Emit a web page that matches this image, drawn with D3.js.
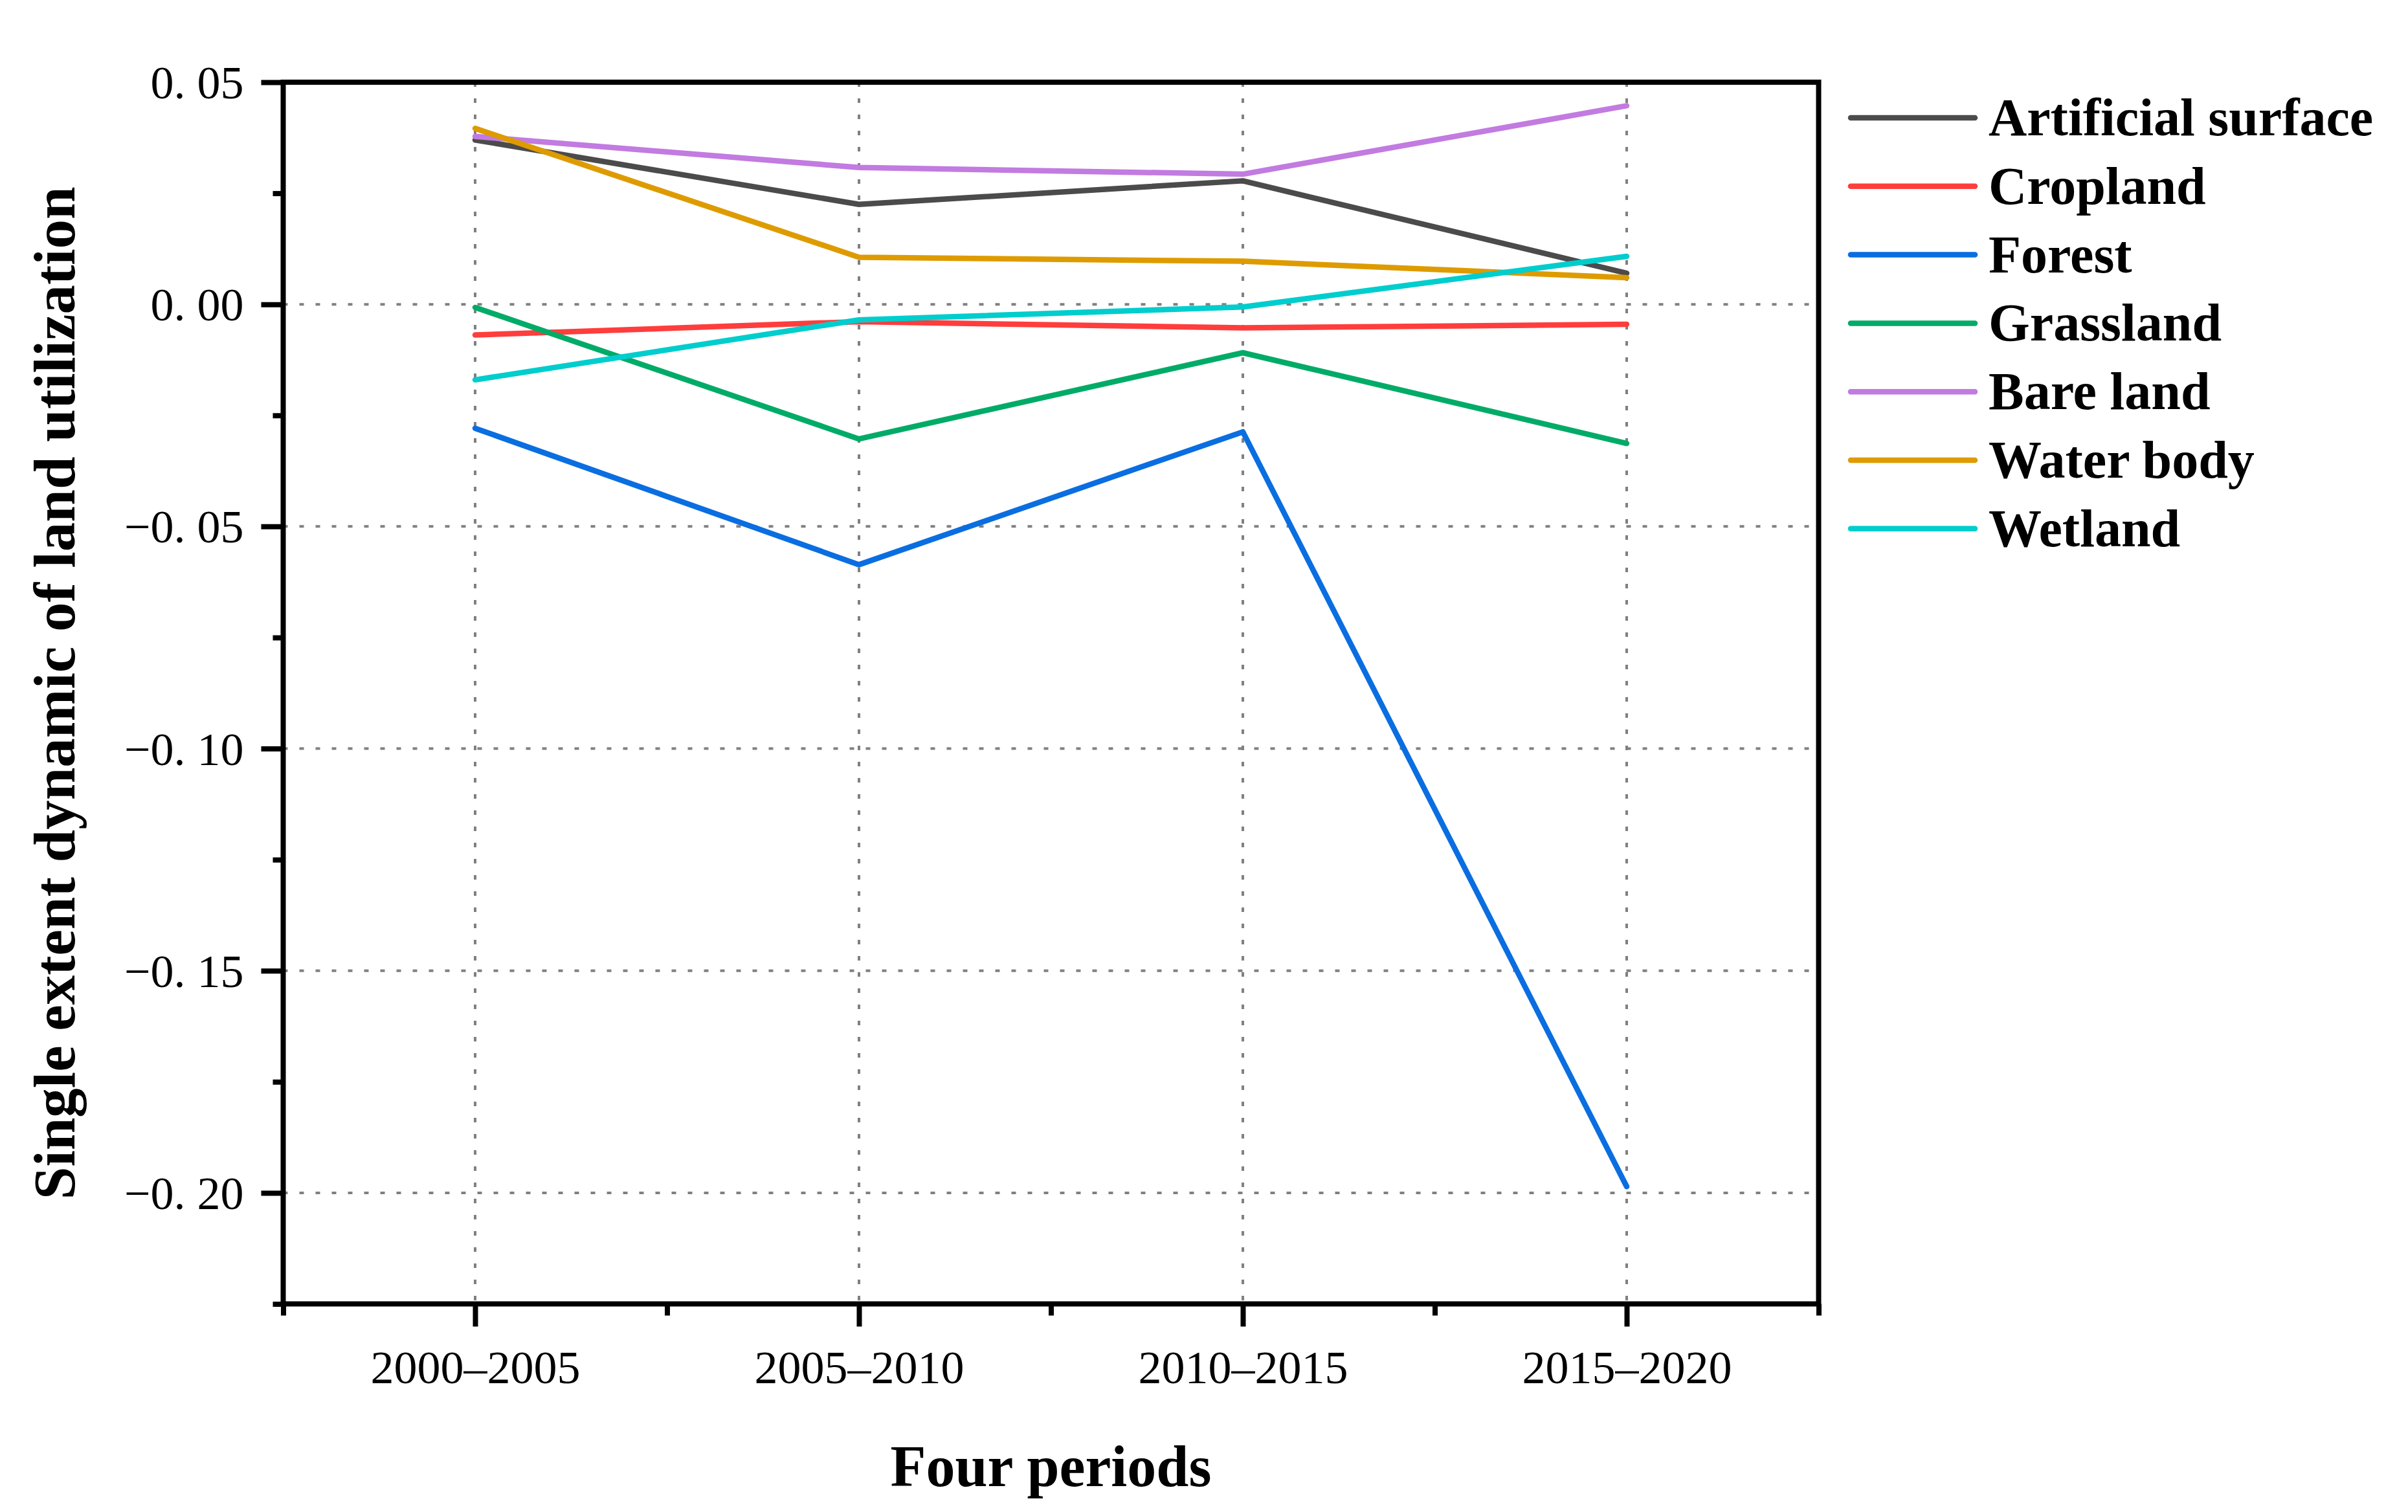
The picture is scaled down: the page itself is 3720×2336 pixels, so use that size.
<!DOCTYPE html>
<head>
    <meta charset='utf-8'>
    <style>
        body {
            margin: 0;
            background: #fff;
        }
        .tick-label {
            font-family: 'Liberation Serif', 'Times New Roman', serif;
            font-size: 72px;
            fill: #000;
        }
        .title {
            font-family: 'Liberation Serif', 'Times New Roman', serif;
            font-weight: bold;
            fill: #000;
        }
        .grid line {
            stroke: #808080;
            stroke-width: 4;
            stroke-dasharray: 7 18;
        }
    </style>
</head>

<body>
<div id='vis'></div>
<script src='https://cdn.jsdelivr.net/npm/d3@7/dist/d3.min.js'></script>
<script>
  const width = 3720, height = 2336

  // data
  const periods = ['2000–2005', '2005–2010', '2010–2015', '2015–2020']
  const artificial = [0.0370, 0.0225, 0.0278, 0.0070]
  const cropland = [-0.0069, -0.0039, -0.0053, -0.0045]
  const forest = [-0.0279, -0.0586, -0.0287, -0.1986]
  const grassland = [-0.0007, -0.0303, -0.0109, -0.0313]
  const bareLand = [0.0378, 0.0308, 0.0293, 0.0447]
  const waterBody = [0.0396, 0.0106, 0.0097, 0.0060]
  const wetland = [-0.0170, -0.0035, -0.0006, 0.0108]

  const names = ['Artificial surface', 'Cropland', 'Forest', 'Grassland', 'Bare land', 'Water body', 'Wetland']
  const colors = ['#4b4b4b', '#ff3d3d', '#0a6ee0', '#00ab68', '#c27be0', '#de9b00', '#00cdcd']
  const yMajor = [0.05, 0, -0.05, -0.10, -0.15, -0.20]
  const yMinor = [0.025, -0.025, -0.075, -0.125, -0.175, -0.225]

  const series = names.map((name, i) => ({
    name: name,
    color: colors[i],
    values: [artificial, cropland, forest, grassland, bareLand, waterBody, wetland][i]
  }))

  const svg = d3.select('#vis')
    .append('svg')
    .attr('width', width)
    .attr('height', height)

  svg.append('rect').attr('width', width).attr('height', height).attr('fill', '#fff')

  const x = d3.scaleLinear().domain([0.5, 4.5]).range([437.5, 2809.5])
  const y = d3.scaleLinear().domain([-0.225, 0.05]).range([2014.5, 127])

  // 网格线
  const grid = svg.append('g').attr('class', 'grid')
  grid.selectAll('.hg')
    .data(yMajor.filter(d => d < 0.04))
    .enter().append('line')
    .attr('x1', x(0.5)).attr('x2', x(4.5))
    .attr('y1', d => y(d)).attr('y2', d => y(d))
  grid.selectAll('.vg')
    .data(periods)
    .enter().append('line')
    .attr('x1', (d, i) => x(i + 1)).attr('x2', (d, i) => x(i + 1))
    .attr('y1', y(0.05)).attr('y2', y(-0.225))

  // 折线
  const line = d3.line()
    .x((d, i) => x(i + 1))
    .y(d => y(d))

  svg.append('g').selectAll('path')
    .data(series)
    .enter().append('path')
    .attr('d', d => line(d.values))
    .attr('fill', 'none')
    .attr('stroke', d => d.color)
    .attr('stroke-width', 8.5)
    .attr('stroke-linejoin', 'round')
    .attr('stroke-linecap', 'round')

  // 坐标轴
  const fmt = v => d3.format('.2f')(v).replace('.', '. ')

  function styleAxis(g) {
    g.select('.domain').remove()
    g.selectAll('.tick line').attr('stroke', '#000').attr('stroke-width', 8)
    g.selectAll('.tick text').attr('class', 'tick-label').attr('font-size', null).attr('font-family', null)
  }

  svg.append('g')
    .attr('transform', 'translate(0,2014.5)')
    .call(d3.axisBottom(x).tickValues([1, 2, 3, 4]).tickSize(35).tickPadding(36)
      .tickFormat(d => periods[d - 1]))
    .call(styleAxis)

  svg.append('g')
    .attr('transform', 'translate(0,2014.5)')
    .call(d3.axisBottom(x).tickValues([0.5, 1.5, 2.5, 3.5, 4.5]).tickSize(18).tickFormat(''))
    .call(styleAxis)

  svg.append('g')
    .attr('transform', 'translate(437.5,0)')
    .call(d3.axisLeft(y).tickValues(yMajor).tickSize(34).tickPadding(27).tickFormat(fmt))
    .call(styleAxis)
    .selectAll('.tick text').attr('dy', '0.34em')

  svg.append('g')
    .attr('transform', 'translate(437.5,0)')
    .call(d3.axisLeft(y).tickValues(yMinor).tickSize(16).tickFormat(''))
    .call(styleAxis)

  // 外框
  svg.append('rect')
    .attr('x', x(0.5)).attr('y', y(0.05))
    .attr('width', x(4.5) - x(0.5))
    .attr('height', y(-0.225) - y(0.05))
    .attr('fill', 'none')
    .attr('stroke', '#000')
    .attr('stroke-width', 8)

  // 轴标题
  svg.append('text')
    .attr('class', 'title')
    .attr('x', (x(0.5) + x(4.5)) / 2)
    .attr('y', 2296)
    .attr('text-anchor', 'middle')
    .attr('font-size', 90)
    .text('Four periods')

  svg.append('text')
    .attr('class', 'title')
    .attr('transform', `translate(115,${(y(0.05) + y(-0.225)) / 2}) rotate(-90)`)
    .attr('text-anchor', 'middle')
    .attr('font-size', 91)
    .text('Single extent dynamic of land utilization')

  // 图例
  const legend = svg.append('g').selectAll('g')
    .data(series)
    .enter().append('g')
    .attr('transform', (d, i) => `translate(0,${182 + i * 105.8})`)

  legend.append('line')
    .attr('x1', 2859).attr('x2', 3051)
    .attr('stroke', d => d.color)
    .attr('stroke-width', 8.5)
    .attr('stroke-linecap', 'round')

  legend.append('text')
    .attr('class', 'title')
    .attr('x', 3072)
    .attr('y', 27)
    .attr('font-size', 82)
    .text(d => d.name)
</script>
</body>
